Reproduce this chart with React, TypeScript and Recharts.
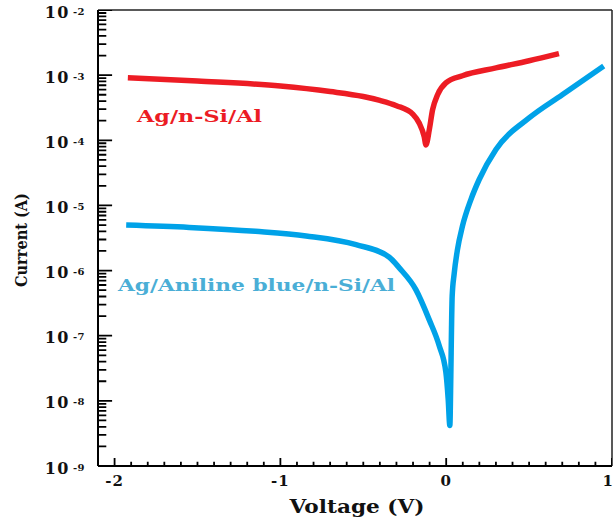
import { LineChart, Line, XAxis, YAxis, ReferenceLine } from 'recharts';

// Ag/n-Si/Al (red)
const redVoltage = [-1.92, -1.5, -1.0, -0.7, -0.5, -0.4, -0.3, -0.2, -0.163, -0.133, -0.122, -0.102, -0.082, -0.052, -0.002, 0.098, 0.3, 0.5, 0.68];
const redCurrent = [9.1e-4, 8.1e-4, 6.8e-4, 5.6e-4, 4.7e-4, 4.1e-4, 3.4e-4, 2.5e-4, 1.84e-4, 1.15e-4, 8.5e-5, 1.45e-4, 2.95e-4, 5.0e-4, 7.6e-4, 9.8e-4, 1.29e-3, 1.66e-3, 2.14e-3];

// Ag/Aniline blue/n-Si/Al (blue)
const blueVoltage = [-1.93, -1.55, -1.15, -0.845, -0.544, -0.343, -0.283, -0.183, -0.102, -0.042, -0.002, 0.012, 0.022, 0.028, 0.032, 0.036, 0.048, 0.068, 0.098, 0.149, 0.199, 0.3, 0.5, 0.7, 0.95];
const blueCurrent = [5.0e-6, 4.6e-6, 4.0e-6, 3.4e-6, 2.5e-6, 1.6e-6, 1.1e-6, 5.1e-7, 1.75e-7, 7.0e-8, 2.75e-8, 1.07e-8, 4.2e-9, 2.5e-8, 1.26e-7, 4.0e-7, 8.9e-7, 2.1e-6, 4.8e-6, 1.23e-5, 2.5e-5, 7.2e-5, 2.2e-4, 5.0e-4, 1.38e-3];

const X_DOMAIN = [-2.1, 1.0];
const Y_DOMAIN = [1e-9, 1e-2];

const decades = [-9, -8, -7, -6, -5, -4, -3, -2];
const minorMultipliers = [2, 3, 4, 5, 6, 7, 8, 9];
const yMajorTicks = decades.map((d) => 10 ** d);
const yMinorTicks = decades.slice(0, -1).flatMap((d) => minorMultipliers.map((m) => m * 10 ** d));
const xMajorTicks = [-2, -1, 0, 1];
const xMinorTicks = Array.from({ length: 31 }, (_, k) => (k - 20) / 10).filter((v) => !xMajorTicks.includes(v));

const redData = redVoltage.map((v, i) => ({ v, i: redCurrent[i] }));
const blueData = blueVoltage.map((v, i) => ({ v, i: blueCurrent[i] }));

// inward tick lengths, in axis units (~165.8 px per volt, ~65.1 px per decade)
const yMajorLen = 0.085;
const yMinorLen = 0.05;
const xMajorLen = 10 ** 0.123;
const xMinorLen = 10 ** 0.065;

// tick marks as broken line segments (null breaks the path)
const x0 = X_DOMAIN[0];
const y0 = Y_DOMAIN[0];
const tickData = [
  ...yMajorTicks.flatMap((t) => [{ v: x0, i: t }, { v: x0 + yMajorLen, i: t }, { v: x0 + yMajorLen, i: null }]),
  ...yMinorTicks.flatMap((t) => [{ v: x0, i: t }, { v: x0 + yMinorLen, i: t }, { v: x0 + yMinorLen, i: null }]),
  ...xMajorTicks.flatMap((t) => [{ v: t, i: y0 }, { v: t, i: y0 * xMajorLen }, { v: t, i: null }]),
  ...xMinorTicks.flatMap((t) => [{ v: t, i: y0 }, { v: t, i: y0 * xMinorLen }, { v: t, i: null }]),
];

const FONT = '"DejaVu Serif", serif';

function YLabel(props: any) {
  const x = Number(props.x);
  const y = Number(props.y);
  const e = Math.round(Math.log10(props.payload.value));
  return (
    <text x={x} y={y + 7.5} textAnchor="end" fontFamily={FONT} fontWeight="bold" fontSize={16} fill="#111" letterSpacing={1.5}>
      10
      <tspan fontSize={10} dy={-3} dx={3} letterSpacing={0.5}>{e}</tspan>
    </text>
  );
}

function XLabel(props: any) {
  const x = Number(props.x);
  const y = Number(props.y);
  const v = props.payload.value;
  const last = v >= 0.999;
  return (
    <text x={last ? x + 2 : x} y={y + 20} textAnchor={last ? 'end' : 'middle'} fontFamily={FONT} fontWeight="bold" fontSize={15} fill="#111" letterSpacing={1}>
      {String(v)}
    </text>
  );
}

export default function App() {
  return (
    <div style={{ width: 614, height: 521, background: '#fff' }}>
      <style>{'body{margin:0}'}</style>
      <LineChart width={614} height={521} margin={{ top: 10, right: 2, left: 0, bottom: 0 }}>
        <XAxis
          dataKey="v"
          type="number"
          domain={X_DOMAIN}
          allowDataOverflow
          ticks={xMajorTicks}
          interval={0}
          tickSize={0}
          tickMargin={0}
          tickLine={false}
          height={55}
          stroke="#000"
          axisLine={{ stroke: '#000', strokeWidth: 2 }}
          tick={(p: any) => <XLabel {...p} />}
        />
        <YAxis
          dataKey="i"
          type="number"
          scale="log"
          domain={Y_DOMAIN}
          allowDataOverflow
          ticks={yMajorTicks}
          interval={0}
          tickSize={0}
          tickMargin={13}
          tickLine={false}
          width={98}
          stroke="#000"
          axisLine={{ stroke: '#000', strokeWidth: 2 }}
          tick={(p: any) => <YLabel {...p} />}
        />
        <ReferenceLine y={1e-2} stroke="#222" strokeWidth={1.5} />
        <ReferenceLine x={1.0} stroke="#222" strokeWidth={1.5} />
        <Line
          data={tickData}
          dataKey="i"
          type="linear"
          stroke="#000"
          strokeWidth={1.8}
          dot={false}
          activeDot={false}
          connectNulls={false}
          legendType="none"
          isAnimationActive={false}
        />
        <Line data={redData} dataKey="i" type="monotone" stroke="#ed1c24" strokeWidth={5.5} dot={false} isAnimationActive={false} />
        <Line data={blueData} dataKey="i" type="monotone" stroke="#00a2e8" strokeWidth={5.5} dot={false} isAnimationActive={false} />
        <text x={137} y={122} textLength={125} lengthAdjust="spacingAndGlyphs" fontFamily={FONT} fontWeight="bold" fontSize={17} fill="#ec1c24">
          Ag/n-Si/Al
        </text>
        <text x={118} y={291} textLength={277} lengthAdjust="spacingAndGlyphs" fontFamily={FONT} fontWeight="bold" fontSize={17} fill="#4aaed6">
          Ag/Aniline blue/n-Si/Al
        </text>
        <text x={357} y={513} textAnchor="middle" textLength={135} lengthAdjust="spacingAndGlyphs" fontFamily={FONT} fontWeight="bold" fontSize={18} fill="#111">
          Voltage (V)
        </text>
        <text
          x={0}
          y={0}
          transform="translate(27,240) rotate(-90)"
          textAnchor="middle"
          textLength={94}
          lengthAdjust="spacingAndGlyphs"
          fontFamily={FONT}
          fontWeight="bold"
          fontSize={17}
          fill="#111"
        >
          Current (A)
        </text>
      </LineChart>
    </div>
  );
}
